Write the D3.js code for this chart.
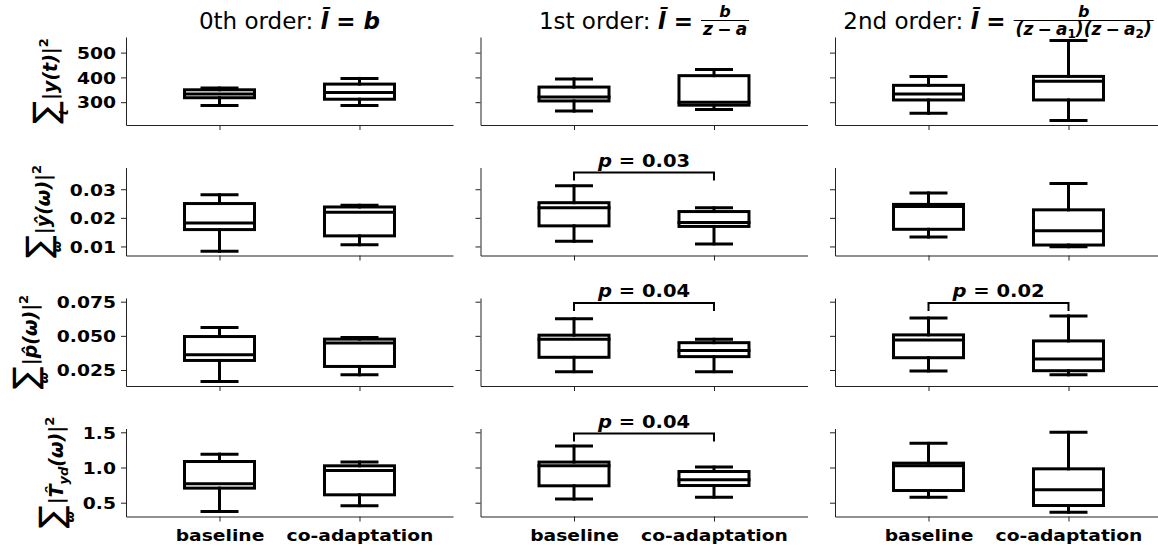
<!DOCTYPE html>
<html>
<head>
<meta charset="utf-8">
<style>
  body { margin: 0; background: #fff; }
  svg { display: block; font-family: "DejaVu Sans", sans-serif; }
  svg text { white-space: pre; }
</style>
</head>
<body>
<svg id="chart" width="1158" height="552"></svg>
<script src="https://cdn.jsdelivr.net/npm/d3@7"></script>
<script>
// groups on the x axis
const groups = ["baseline", "co-adaptation"];

// column titles
const orderNames = ["0th order: ", "1st order: ", "2nd order: "];
const fracNum = [null, "b", "b"];
const fracDen = [null,
  [["z\u2005−\u2005a", 0]],
  [["(z\u2005−\u2005a", 0], ["1", 1], [")(z\u2005−\u2005a", 0], ["2", 1], [")", 0]]];

// five-number summaries per column: [lower whisker, Q1, median, Q3, upper whisker]
const timeEnergy = [
  [[287, 318, 333, 350, 357], [287, 312, 339, 373, 396]],
  [[264, 305, 321, 361, 394], [271, 288, 300, 407, 432]],
  [[255, 309, 333, 368, 404], [226, 309, 384, 404, 549]]
];
const outputSpec = [
  [[0.0083, 0.0159, 0.0182, 0.0250, 0.0281], [0.0106, 0.0137, 0.0220, 0.0238, 0.0244]],
  [[0.0118, 0.0172, 0.0235, 0.0253, 0.0312], [0.0109, 0.0170, 0.0184, 0.0222, 0.0235]],
  [[0.0133, 0.0160, 0.0240, 0.0247, 0.0287], [0.0099, 0.0105, 0.0155, 0.0228, 0.0320]]
];
const inputSpec = [
  [[0.0166, 0.0320, 0.0361, 0.0495, 0.0561], [0.0215, 0.0276, 0.0447, 0.0476, 0.0488]],
  [[0.0238, 0.0343, 0.0475, 0.0505, 0.0625], [0.0238, 0.0348, 0.0392, 0.0450, 0.0475]],
  [[0.0243, 0.0340, 0.0470, 0.0507, 0.0630], [0.0215, 0.0245, 0.0330, 0.0463, 0.0646]]
];
const transferSpec = [
  [[0.375, 0.707, 0.768, 1.085, 1.190], [0.458, 0.612, 0.958, 1.024, 1.077]],
  [[0.551, 0.740, 1.024, 1.077, 1.305], [0.579, 0.744, 0.825, 0.943, 1.006]],
  [[0.579, 0.673, 1.024, 1.062, 1.343], [0.365, 0.460, 0.683, 0.981, 1.500]]
];
const rowStats = [timeEnergy, outputSpec, inputSpec, transferSpec];

const rowDomains = [[208, 563], [0.00684, 0.0376], [0.0133, 0.0777], [0.304, 1.554]];
const rowTicks = [[300, 400, 500], [0.01, 0.02, 0.03], [0.025, 0.05, 0.075], [0.5, 1.0, 1.5]];
const rowFormats = ["d", ".2f", ".3f", ".1f"];

// y labels: sum index, then main text pieces [text, is subscript]
const yLabelSub = ["t", "ω", "ω", "ω"];
const yLabelMain = [
  [["|y(t)|", 0]],
  [["|ŷ(ω)|", 0]],
  [["|p\u0302(ω)|", 0]],
  [["|T\u0302", 0], ["yd", 1], ["(ω)|", 0]]
];

// significance brackets: [row, column, p]
const sigTests = [[1, 1, "0.03"], [2, 1, "0.04"], [2, 2, "0.02"], [3, 1, "0.04"]];

const colLeft0 = 126, colWidth = 327, colStep = 354.5;
const rowTop0 = 37, rowHeight = 88, rowStep = 130.5;
const boldScale = 1.17;

const svg = d3.select("#chart");

function styleAxis(g) {
  g.select(".domain").attr("stroke", "#222").attr("stroke-width", 1);
  g.selectAll(".tick line").attr("stroke", "#222").attr("stroke-width", 1);
}

const tickLeft = [];

rowStats.forEach(function(stats, r) {
  const top = rowTop0 + r * rowStep, bottom = top + rowHeight;
  const y = d3.scaleLinear().domain(rowDomains[r]).range([bottom, top]);

  stats.forEach(function(cols, c) {
    const left = colLeft0 + c * colStep;
    const x = d3.scalePoint().domain(groups).range([left, left + colWidth]).padding(0.668);
    const panel = svg.append("g");

    // y axis
    const ya = panel.append("g")
      .attr("transform", "translate(" + left + ",0)")
      .call(d3.axisLeft(y).tickValues(rowTicks[r]).tickSize(5).tickSizeOuter(0)
        .tickFormat(c === 0 ? d3.format(rowFormats[r]) : ""));
    styleAxis(ya);
    ya.selectAll(".tick text")
      .attr("x", 0).attr("dy", "0.36em")
      .attr("transform", "translate(-10,0) scale(" + boldScale + ",1)")
      .attr("fill", "#000")
      .style("font-size", "16px").style("font-weight", "bold")
      .style("font-family", "'DejaVu Sans', sans-serif");

    if (c === 0) {
      let m = Infinity;
      ya.selectAll(".tick text").each(function() {
        m = Math.min(m, this.getBoundingClientRect().left);
      });
      tickLeft[r] = m;
    }

    // x axis
    const xa = panel.append("g")
      .attr("transform", "translate(0," + bottom + ")")
      .call(d3.axisBottom(x).tickSize(5).tickSizeOuter(0)
        .tickFormat(r === rowStats.length - 1 ? null : ""));
    styleAxis(xa);
    xa.selectAll(".tick text")
      .attr("y", 0).attr("dy", null)
      .attr("transform", "translate(0,24) scale(" + boldScale + ",1)")
      .attr("fill", "#000")
      .style("font-size", "16px").style("font-weight", "bold")
      .style("font-family", "'DejaVu Sans', sans-serif");

    // boxes
    const bw = x.step() * 0.5;
    cols.forEach(function(s, i) {
      const cx = x(groups[i]);
      const b = panel.append("g")
        .attr("fill", "none").attr("stroke", "#000").attr("stroke-width", 3)
        .attr("stroke-linecap", "square");
      b.append("line").attr("x1", cx).attr("x2", cx).attr("y1", y(s[0])).attr("y2", y(s[1]));
      b.append("line").attr("x1", cx).attr("x2", cx).attr("y1", y(s[3])).attr("y2", y(s[4]));
      b.append("line").attr("x1", cx - bw / 4).attr("x2", cx + bw / 4).attr("y1", y(s[0])).attr("y2", y(s[0]));
      b.append("line").attr("x1", cx - bw / 4).attr("x2", cx + bw / 4).attr("y1", y(s[4])).attr("y2", y(s[4]));
      b.append("rect").attr("x", cx - bw / 2).attr("y", y(s[3]))
        .attr("width", bw).attr("height", y(s[1]) - y(s[3]));
      b.append("line").attr("x1", cx - bw / 2).attr("x2", cx + bw / 2).attr("y1", y(s[2])).attr("y2", y(s[2]));
    });

    // significance bracket
    sigTests.filter(function(t) { return t[0] === r && t[1] === c; }).forEach(function(t) {
      const x1 = x(groups[0]), x2 = x(groups[1]);
      const barY = top + 5, tipY = top + 13;
      panel.append("path")
        .attr("d", "M" + x1 + "," + tipY + "L" + x1 + "," + barY + "L" + x2 + "," + barY + "L" + x2 + "," + tipY)
        .attr("fill", "none").attr("stroke", "#000").attr("stroke-width", 2);
      const txt = panel.append("text")
        .attr("text-anchor", "middle")
        .attr("transform", "translate(" + ((x1 + x2) / 2) + "," + (barY - 6) + ") scale(1.15,1)")
        .style("font-size", "17px").style("font-weight", "bold");
      txt.append("tspan").style("font-style", "italic").text("p");
      txt.append("tspan").text(" = " + t[2]);
    });
  });

  drawYLabel(r, tickLeft[r] - 6, (top + bottom) / 2);
});

orderNames.forEach(function(n, c) {
  drawTitle(c, colLeft0 + c * colStep + colWidth / 2, 29);
});

function drawYLabel(r, edgeX, cy) {
  const g = svg.append("g");
  const sum = g.append("text").style("font-size", "34px").text("∑");
  const sw = sum.node().getComputedTextLength();
  g.append("text").attr("x", sw / 2).attr("y", 11).attr("text-anchor", "middle")
    .style("font-size", "13px").style("font-weight", "bold").style("font-style", "italic")
    .text(yLabelSub[r]);
  const main = g.append("text").attr("x", sw + 1)
    .style("font-size", "19px").style("font-weight", "bold").style("font-style", "italic");
  let off = 0;
  yLabelMain[r].forEach(function(p) {
    const want = p[1] ? 5 : 0;
    main.append("tspan").attr("dy", want - off)
      .style("font-size", p[1] ? "13px" : "19px").text(p[0]);
    off = want;
  });
  main.append("tspan").attr("dy", -9 - off).style("font-size", "13px")
    .style("font-style", "normal").text("2");
  const b = g.node().getBBox();
  g.attr("transform", "translate(" + edgeX + "," + cy + ") rotate(-90) translate(" +
    (-(b.x + b.width / 2)) + "," + (-(b.y + b.height)) + ")");
}

function drawTitle(c, cx, baseY) {
  const g = svg.append("g");
  let xPos = 0;
  const pre = g.append("text").style("font-size", "23px").text(orderNames[c]);
  xPos += pre.node().getComputedTextLength();
  const eq = g.append("text").attr("x", xPos)
    .style("font-size", "23px").style("font-weight", "bold").style("font-style", "italic")
    .text(fracNum[c] ? "l\u0304 = " : "l\u0304 = b");
  xPos += eq.node().getComputedTextLength();
  if (fracNum[c]) {
    const den = g.append("text").attr("y", 6)
      .style("font-size", "17px").style("font-weight", "bold").style("font-style", "italic");
    let off = 0;
    fracDen[c].forEach(function(p) {
      const want = p[1] ? 3 : 0;
      den.append("tspan").attr("dy", want - off)
        .style("font-size", p[1] ? "12px" : "17px")
        .style("font-style", p[1] ? "normal" : "italic").text(p[0]);
      off = want;
    });
    const dw = den.node().getComputedTextLength();
    den.attr("x", xPos + 2);
    g.append("text").attr("x", xPos + 2 + dw / 2).attr("y", -12).attr("text-anchor", "middle")
      .style("font-size", "16px").style("font-weight", "bold").style("font-style", "italic")
      .text(fracNum[c]);
    g.append("line").attr("x1", xPos).attr("x2", xPos + dw + 4)
      .attr("y1", -8.5).attr("y2", -8.5).attr("stroke", "#000").attr("stroke-width", 1);
  }
  const b = g.node().getBBox();
  g.attr("transform", "translate(" + (cx - (b.x + b.width / 2)) + "," + baseY + ")");
}
</script>
</body>
</html>
